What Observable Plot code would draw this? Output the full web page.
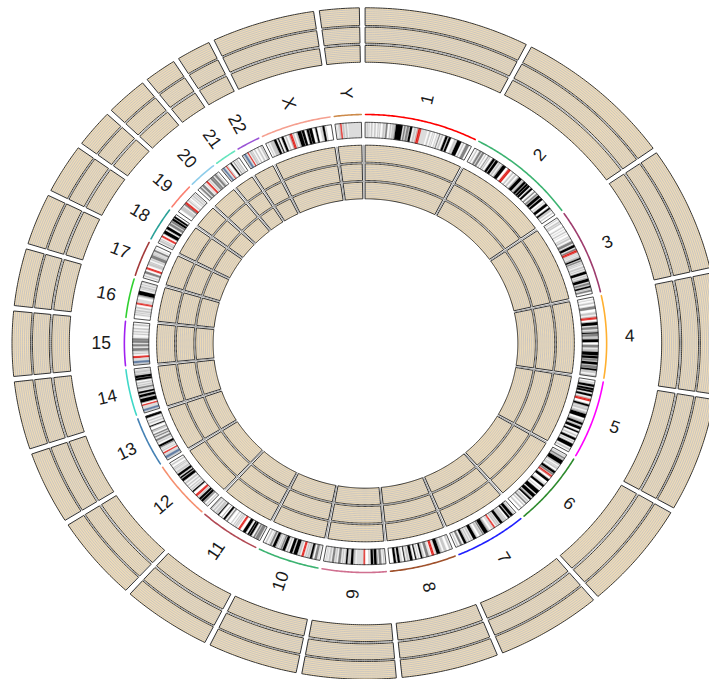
<!DOCTYPE html>
<html><head><meta charset="utf-8">
<script src="https://cdn.jsdelivr.net/npm/d3@7"></script>
<script src="https://cdn.jsdelivr.net/npm/@observablehq/plot@0.6"></script>
<style>html,body{margin:0;padding:0;background:#fff;overflow:hidden}</style>
</head><body><div id="chart"></div>
<script>
// ---------------- data ----------------
const chromosomes = ["1","2","3","4","5","6","7","8","9","10","11","12","13","14","15","16","17","18","19","20","21","22","X","Y"];
const chromLengthsMb = [249.25,243.20,198.02,191.15,180.92,171.12,159.14,146.36,141.21,135.53,135.01,133.85,115.17,107.35,102.53,90.35,81.20,78.08,59.13,63.03,48.13,51.30,155.27,59.37];
const chromColors = ["#FF0000","#3CB371","#9E3D6E","#FFB030","#FF00FF","#2E8B2E","#2020FF","#A0522D","#D07090","#3CB371","#B24A55","#F59070","#4682B4","#40D8C8","#A020F0","#30D030","#A33A3A","#2AA198","#FA8072","#8ECDEA","#66E5BE","#9B55D6","#F5A090","#CD8A4A"];
// cytoband stain codes: n=gneg 2=gpos25 5=gpos50 7=gpos75 1=gpos100 a=acen v=gvar s=stalk
const stainCodes = ["n","2","5","7","1","a","v","s"];
const stainColors = ["#FFFFFF","#C8C8C8","#C8C8C8","#828282","#000000","#E0201A","#DCDCDC","#647FA4"];
// band ends (Mb) with stain; each band starts where the previous ends
const bands_chr1 = [[2.3,"n"],[5.4,"2"],[7.2,"n"],[9.2,"2"],[12.7,"n"],[16.2,"5"],[20.4,"n"],[23.9,"2"],[28.0,"n"],[30.2,"2"],[32.4,"n"],[34.6,"2"],[40.1,"n"],[44.1,"2"],[46.8,"n"],[50.7,"7"],[56.1,"n"],[59.0,"5"],[61.3,"n"],[68.9,"5"],[69.7,"n"],[84.9,"1"],[88.4,"n"],[92.0,"7"],[94.7,"n"],[99.7,"7"],[102.2,"n"],[107.2,"1"],[111.8,"n"],[116.1,"5"],[117.8,"n"],[120.7,"5"],[121.5,"n"],[125.0,"a"],[128.9,"a"],[142.6,"v"],[147.0,"n"],[150.3,"5"],[155.0,"n"],[156.5,"5"],[159.1,"n"],[160.5,"5"],[165.5,"n"],[167.2,"5"],[170.9,"n"],[172.9,"7"],[176.0,"n"],[180.3,"5"],[185.8,"n"],[190.8,"1"],[193.8,"n"],[198.7,"1"],[207.2,"n"],[211.5,"2"],[214.5,"n"],[224.1,"1"],[228.5,"n"],[231.4,"5"],[236.4,"n"],[243.7,"7"],[249.25,"n"]];
const bands_chr2 = [[4.4,"n"],[7.1,"5"],[12.2,"n"],[16.7,"7"],[19.2,"n"],[24.0,"7"],[27.9,"n"],[30.0,"2"],[35.1,"n"],[36.6,"7"],[38.6,"n"],[41.6,"5"],[47.6,"n"],[52.9,"1"],[55.0,"n"],[61.3,"1"],[63.9,"n"],[68.4,"5"],[71.5,"n"],[73.5,"5"],[75.0,"n"],[83.3,"1"],[90.5,"n"],[93.3,"a"],[96.8,"a"],[102.7,"n"],[106.0,"5"],[110.3,"n"],[114.4,"2"],[118.8,"n"],[122.4,"5"],[129.9,"1"],[131.5,"n"],[135.1,"2"],[136.8,"n"],[142.2,"1"],[144.1,"n"],[148.7,"1"],[149.9,"n"],[154.9,"1"],[159.0,"n"],[163.7,"1"],[169.7,"n"],[172.6,"7"],[177.1,"n"],[180.6,"7"],[183.0,"n"],[189.4,"1"],[191.9,"n"],[197.4,"1"],[203.3,"n"],[204.9,"2"],[209.0,"n"],[215.3,"1"],[221.5,"n"],[225.2,"1"],[226.1,"n"],[231.0,"5"],[235.1,"n"],[237.3,"5"],[243.2,"n"]];
const bands_chr3 = [[2.8,"n"],[4.0,"2"],[8.7,"n"],[11.8,"2"],[13.3,"n"],[16.4,"2"],[23.9,"n"],[26.4,"5"],[30.9,"n"],[32.1,"2"],[36.5,"n"],[39.4,"2"],[43.7,"n"],[44.1,"2"],[50.6,"n"],[52.3,"5"],[54.4,"n"],[58.6,"5"],[63.7,"n"],[69.8,"7"],[74.2,"n"],[79.8,"1"],[83.5,"n"],[87.2,"7"],[87.9,"n"],[91.0,"a"],[93.9,"a"],[98.3,"v"],[100.0,"n"],[100.9,"2"],[103.1,"n"],[106.5,"5"],[108.2,"n"],[111.6,"1"],[113.7,"n"],[117.3,"7"],[119.0,"n"],[121.9,"5"],[123.8,"n"],[125.8,"5"],[129.2,"n"],[133.7,"5"],[135.7,"n"],[138.7,"5"],[142.8,"n"],[148.9,"1"],[152.1,"n"],[155.0,"5"],[157.0,"n"],[159.0,"2"],[160.7,"n"],[167.6,"1"],[170.9,"n"],[175.7,"7"],[179.0,"n"],[182.7,"1"],[184.5,"n"],[186.0,"2"],[187.9,"n"],[192.3,"7"],[198.02,"n"]];
const bands_chr4 = [[4.5,"n"],[6.0,"2"],[11.3,"n"],[15.2,"5"],[21.3,"n"],[27.7,"7"],[35.8,"n"],[41.2,"5"],[44.6,"n"],[48.2,"5"],[50.4,"a"],[52.7,"a"],[59.5,"n"],[66.6,"1"],[70.5,"n"],[76.3,"7"],[78.9,"n"],[82.4,"5"],[84.1,"n"],[86.9,"1"],[88.0,"n"],[93.7,"7"],[95.1,"n"],[98.8,"5"],[101.1,"n"],[107.7,"1"],[114.6,"n"],[120.8,"7"],[123.8,"n"],[128.8,"5"],[131.1,"n"],[139.5,"1"],[141.5,"n"],[146.8,"1"],[148.5,"n"],[152.6,"7"],[155.6,"n"],[161.8,"1"],[164.5,"n"],[170.1,"7"],[171.9,"n"],[176.3,"1"],[177.5,"n"],[183.2,"5"],[187.1,"n"],[191.15,"5"]];
const bands_chr5 = [[4.5,"n"],[6.3,"5"],[9.8,"n"],[15.0,"1"],[18.4,"n"],[23.3,"1"],[24.6,"n"],[28.9,"1"],[33.8,"n"],[38.4,"1"],[42.5,"n"],[46.1,"5"],[48.4,"a"],[50.7,"a"],[58.9,"n"],[62.9,"1"],[63.2,"n"],[67.2,"5"],[68.4,"n"],[73.3,"5"],[76.9,"n"],[81.4,"5"],[82.8,"n"],[92.3,"1"],[98.2,"n"],[102.8,"5"],[104.5,"n"],[109.6,"1"],[111.5,"n"],[113.1,"5"],[115.2,"n"],[121.4,"1"],[127.3,"n"],[130.6,"1"],[136.2,"n"],[139.5,"2"],[144.5,"n"],[149.8,"1"],[152.7,"n"],[155.7,"5"],[159.9,"n"],[168.5,"1"],[172.8,"n"],[176.6,"5"],[180.92,"n"]];
const bands_chr6 = [[2.3,"n"],[4.2,"2"],[7.1,"n"],[10.6,"7"],[11.6,"n"],[13.4,"2"],[15.2,"n"],[25.2,"1"],[25.8,"n"],[29.6,"5"],[33.3,"n"],[35.0,"2"],[36.4,"n"],[40.5,"5"],[46.2,"n"],[51.8,"1"],[52.9,"n"],[57.0,"7"],[58.7,"n"],[61.0,"a"],[63.3,"a"],[63.4,"v"],[70.0,"n"],[75.9,"1"],[83.9,"n"],[84.9,"5"],[88.0,"n"],[93.1,"1"],[99.5,"n"],[100.6,"5"],[105.5,"n"],[114.6,"1"],[118.3,"n"],[126.1,"1"],[127.1,"n"],[130.3,"5"],[131.2,"n"],[135.2,"1"],[139.0,"n"],[142.8,"5"],[145.6,"n"],[149.0,"7"],[152.5,"n"],[155.5,"5"],[161.0,"n"],[164.5,"5"],[171.12,"n"]];
const bands_chr7 = [[2.8,"n"],[4.5,"5"],[7.3,"n"],[13.8,"1"],[16.5,"n"],[20.9,"1"],[25.5,"n"],[28.0,"5"],[28.8,"n"],[35.0,"5"],[37.2,"n"],[43.3,"1"],[45.4,"n"],[49.0,"5"],[50.5,"n"],[54.0,"5"],[58.0,"n"],[59.9,"a"],[61.7,"a"],[67.0,"v"],[72.2,"n"],[77.5,"5"],[86.4,"1"],[88.2,"n"],[91.1,"7"],[92.8,"n"],[98.0,"5"],[103.8,"n"],[104.5,"5"],[107.4,"n"],[114.6,"1"],[117.4,"n"],[121.1,"5"],[123.8,"n"],[127.1,"5"],[129.2,"n"],[130.4,"2"],[132.6,"n"],[138.2,"1"],[143.1,"n"],[147.9,"7"],[152.6,"n"],[155.1,"5"],[159.14,"n"]];
const bands_chr8 = [[2.2,"n"],[6.2,"2"],[12.7,"n"],[19.0,"5"],[23.3,"n"],[27.4,"5"],[28.8,"n"],[36.5,"1"],[38.3,"n"],[39.7,"2"],[43.1,"n"],[45.6,"a"],[48.1,"a"],[52.2,"n"],[52.6,"2"],[55.5,"n"],[61.6,"7"],[66.0,"n"],[68.0,"5"],[70.5,"n"],[73.9,"1"],[78.3,"n"],[80.1,"5"],[84.6,"n"],[86.9,"1"],[93.3,"n"],[99.0,"1"],[101.6,"n"],[106.2,"5"],[110.5,"n"],[112.1,"1"],[117.7,"n"],[119.2,"2"],[122.5,"n"],[127.3,"1"],[131.5,"n"],[136.4,"1"],[139.9,"n"],[146.36,"n"]];
const bands_chr9 = [[2.2,"n"],[4.6,"2"],[9.0,"n"],[14.2,"7"],[16.6,"n"],[18.5,"5"],[19.9,"n"],[25.6,"1"],[28.0,"n"],[33.2,"1"],[36.3,"n"],[38.4,"2"],[47.3,"n"],[49.0,"a"],[50.7,"a"],[65.9,"v"],[68.7,"n"],[72.2,"2"],[74.0,"n"],[79.2,"1"],[81.1,"n"],[84.1,"5"],[86.9,"n"],[90.4,"1"],[91.8,"n"],[93.9,"5"],[96.6,"n"],[99.3,"2"],[102.6,"n"],[108.2,"7"],[112.0,"n"],[114.9,"5"],[117.7,"n"],[122.5,"7"],[125.8,"n"],[130.3,"5"],[133.5,"n"],[134.0,"2"],[135.9,"n"],[137.4,"2"],[141.21,"n"]];
const bands_chr10 = [[3.0,"n"],[3.8,"2"],[6.6,"n"],[12.2,"7"],[17.3,"n"],[18.6,"7"],[18.7,"n"],[22.6,"1"],[24.6,"n"],[29.6,"5"],[31.3,"n"],[34.4,"5"],[38.0,"n"],[40.2,"a"],[42.3,"a"],[46.1,"n"],[49.9,"2"],[52.9,"n"],[61.2,"1"],[64.5,"n"],[70.6,"1"],[74.9,"n"],[77.7,"5"],[82.0,"n"],[87.9,"1"],[89.5,"n"],[92.9,"7"],[94.1,"n"],[97.0,"2"],[99.3,"n"],[101.9,"2"],[103.0,"n"],[104.9,"2"],[105.8,"n"],[111.9,"1"],[114.9,"n"],[119.1,"7"],[121.7,"n"],[123.1,"2"],[127.5,"n"],[130.6,"5"],[135.53,"n"]];
const bands_chr11 = [[2.8,"n"],[10.7,"7"],[12.7,"n"],[16.2,"7"],[21.7,"n"],[26.1,"1"],[27.2,"n"],[31.0,"1"],[36.4,"n"],[43.5,"1"],[51.6,"n"],[53.7,"a"],[55.7,"a"],[59.9,"n"],[61.7,"2"],[63.4,"n"],[65.9,"2"],[68.4,"n"],[70.4,"2"],[75.2,"n"],[77.1,"5"],[85.6,"n"],[88.3,"7"],[92.8,"n"],[97.2,"1"],[102.1,"n"],[102.4,"7"],[110.6,"n"],[112.7,"1"],[114.5,"n"],[121.2,"5"],[123.9,"n"],[127.8,"5"],[130.8,"n"],[135.01,"5"]];
const bands_chr12 = [[3.3,"n"],[5.4,"2"],[10.1,"n"],[12.8,"7"],[14.8,"n"],[20.0,"1"],[21.3,"n"],[26.5,"1"],[27.8,"n"],[30.7,"5"],[33.3,"n"],[35.8,"a"],[38.2,"a"],[46.4,"n"],[49.1,"1"],[51.5,"n"],[54.9,"2"],[57.6,"n"],[60.6,"2"],[64.5,"n"],[67.7,"5"],[71.5,"n"],[75.7,"5"],[80.3,"n"],[86.7,"1"],[89.0,"n"],[92.6,"1"],[96.2,"n"],[101.6,"1"],[103.8,"n"],[109.0,"5"],[111.7,"n"],[112.3,"5"],[114.3,"n"],[116.8,"5"],[118.1,"n"],[120.7,"2"],[125.9,"n"],[129.3,"5"],[133.85,"n"]];
const bands_chr13 = [[4.5,"v"],[10.0,"s"],[16.3,"v"],[17.9,"a"],[19.5,"a"],[23.3,"n"],[25.5,"2"],[27.8,"n"],[28.9,"5"],[32.2,"n"],[34.0,"7"],[35.5,"n"],[40.1,"1"],[45.2,"n"],[47.8,"5"],[50.9,"n"],[55.3,"7"],[59.6,"n"],[62.3,"7"],[65.7,"n"],[68.6,"7"],[73.3,"n"],[75.4,"5"],[77.2,"n"],[79.0,"7"],[87.7,"n"],[90.0,"1"],[95.0,"n"],[98.1,"5"],[101.7,"n"],[104.8,"5"],[110.3,"n"],[115.17,"1"]];
const bands_chr14 = [[3.7,"v"],[8.1,"s"],[16.0,"v"],[17.6,"a"],[19.1,"a"],[24.6,"n"],[33.3,"1"],[35.3,"n"],[36.6,"5"],[37.8,"n"],[43.5,"1"],[47.2,"n"],[50.9,"1"],[54.1,"n"],[55.5,"2"],[58.1,"n"],[62.1,"7"],[64.8,"n"],[67.9,"5"],[70.2,"n"],[73.8,"5"],[79.3,"n"],[83.6,"1"],[84.9,"n"],[89.8,"1"],[91.4,"n"],[94.7,"2"],[96.3,"n"],[101.4,"5"],[103.2,"n"],[104.0,"2"],[107.35,"n"]];
const bands_chr15 = [[3.9,"v"],[8.7,"s"],[15.8,"v"],[19.0,"a"],[20.7,"a"],[25.7,"n"],[28.1,"5"],[30.3,"n"],[31.2,"5"],[33.6,"n"],[40.1,"7"],[42.8,"n"],[43.6,"5"],[44.8,"n"],[49.5,"7"],[52.9,"n"],[59.1,"7"],[59.3,"n"],[63.7,"7"],[67.2,"n"],[67.3,"2"],[72.7,"n"],[75.2,"2"],[78.3,"n"],[81.7,"5"],[85.2,"n"],[89.1,"5"],[94.3,"n"],[98.5,"5"],[102.53,"n"]];
const bands_chr16 = [[7.9,"n"],[10.5,"5"],[12.6,"n"],[14.8,"5"],[16.8,"n"],[21.2,"5"],[24.2,"n"],[28.1,"5"],[34.6,"n"],[36.6,"a"],[38.6,"a"],[47.0,"v"],[52.6,"n"],[56.7,"5"],[57.4,"n"],[66.7,"1"],[70.8,"n"],[72.9,"5"],[74.2,"n"],[79.2,"5"],[81.7,"n"],[84.2,"5"],[87.1,"n"],[88.7,"2"],[90.35,"n"]];
const bands_chr17 = [[3.3,"n"],[6.5,"5"],[10.7,"n"],[16.0,"7"],[22.2,"n"],[24.0,"a"],[25.8,"a"],[31.8,"n"],[38.1,"5"],[38.4,"n"],[40.9,"2"],[44.9,"n"],[47.4,"5"],[50.2,"n"],[57.6,"7"],[58.3,"n"],[61.3,"5"],[62.6,"n"],[64.2,"5"],[67.1,"n"],[70.9,"7"],[74.8,"n"],[75.3,"2"],[81.20,"n"]];
const bands_chr18 = [[2.9,"n"],[7.1,"5"],[8.5,"n"],[10.9,"2"],[15.4,"n"],[17.2,"a"],[19.0,"a"],[25.0,"n"],[32.7,"1"],[37.2,"n"],[43.5,"1"],[48.2,"n"],[53.8,"7"],[56.2,"n"],[60.0,"7"],[61.6,"n"],[66.8,"1"],[68.7,"n"],[73.1,"1"],[78.08,"n"]];
const bands_chr19 = [[6.9,"n"],[13.9,"2"],[14.0,"n"],[16.3,"2"],[20.0,"n"],[24.4,"7"],[26.5,"a"],[28.6,"a"],[32.4,"n"],[35.5,"2"],[38.3,"n"],[38.7,"2"],[43.4,"n"],[45.2,"2"],[48.0,"n"],[51.4,"2"],[53.6,"n"],[56.3,"2"],[59.13,"n"]];
const bands_chr20 = [[5.1,"n"],[9.2,"7"],[12.1,"n"],[17.9,"7"],[21.3,"n"],[22.3,"2"],[25.6,"n"],[27.5,"a"],[29.4,"a"],[32.1,"n"],[34.4,"2"],[37.6,"n"],[41.7,"7"],[42.1,"n"],[46.4,"7"],[49.8,"n"],[55.0,"7"],[56.5,"n"],[58.4,"5"],[63.03,"n"]];
const bands_chr21 = [[2.8,"v"],[6.8,"s"],[10.9,"v"],[12.3,"a"],[13.2,"a"],[14.3,"n"],[16.4,"5"],[24.0,"n"],[26.8,"1"],[31.5,"n"],[33.0,"7"],[35.8,"n"],[37.8,"5"],[39.7,"n"],[42.6,"2"],[48.13,"n"]];
const bands_chr22 = [[3.8,"v"],[8.3,"s"],[12.2,"v"],[13.7,"a"],[15.0,"a"],[17.9,"n"],[22.2,"2"],[23.5,"n"],[25.5,"5"],[29.6,"n"],[32.2,"5"],[37.6,"n"],[41.0,"5"],[45.2,"n"],[49.4,"5"],[51.30,"n"]];
const bands_chrX = [[4.3,"n"],[6.0,"5"],[9.5,"n"],[17.1,"5"],[19.3,"n"],[24.9,"1"],[29.3,"n"],[31.5,"1"],[37.6,"n"],[42.4,"1"],[46.4,"n"],[49.8,"5"],[54.8,"n"],[58.1,"5"],[60.6,"a"],[63.0,"a"],[64.6,"n"],[67.8,"5"],[71.8,"n"],[73.9,"5"],[76.0,"n"],[84.6,"1"],[86.2,"n"],[91.8,"1"],[97.6,"n"],[102.5,"1"],[103.6,"n"],[110.0,"1"],[117.7,"n"],[121.0,"1"],[129.3,"n"],[131.3,"5"],[134.5,"n"],[138.9,"1"],[141.2,"n"],[143.0,"2"],[155.27,"n"]];
const bands_chrY = [[2.5,"n"],[3.0,"5"],[6.1,"n"],[6.9,"5"],[7.5,"n"],[10.3,"5"],[11.6,"n"],[12.5,"a"],[13.4,"a"],[15.1,"n"],[19.8,"5"],[22.1,"n"],[26.2,"5"],[28.8,"n"],[59.37,"v"]];
const bandTables = [bands_chr1,bands_chr2,bands_chr3,bands_chr4,bands_chr5,bands_chr6,bands_chr7,bands_chr8,bands_chr9,bands_chr10,bands_chr11,bands_chr12,bands_chr13,bands_chr14,bands_chr15,bands_chr16,bands_chr17,bands_chr18,bands_chr19,bands_chr20,bands_chr21,bands_chr22,bands_chrX,bands_chrY];

// ---------------- layout ----------------
const W = 709, H = 679, CX = 365, CY = 343, SX = 1.053;
const GAP = 1;
const outerTracks = [[318,335.7],[300.3,316.3],[281.3,298]];
const innerTracks = [[181.3,198.3],[163,179.7],[144.7,161.3]];
const IDEO = [205.8,221.2], ARC_R = 229, LABEL_R = 251;
const STRIPES = 8;

const total = d3.sum(chromLengthsMb);
const degPerMb = (360 - GAP*chromosomes.length)/total;
const sectors = [];
{ let a = 0;
  chromosomes.forEach((c,i)=>{ const s=a, e=a+chromLengthsMb[i]*degPerMb;
    sectors.push({chr:c,i,start:s,end:e,len:chromLengthsMb[i],color:chromColors[i]}); a=e+GAP; }); }

const rad = d => d*Math.PI/180;
const pt = (t,r,id,extra) => ({u:r*Math.sin(rad(t)), v:r*Math.cos(rad(t)), id, ...extra});
function arc(t1,t2,r,id,extra){ const n=Math.max(1,Math.ceil(Math.abs(t2-t1)/0.4)); const o=[];
  for(let k=0;k<=n;k++) o.push(pt(t1+(t2-t1)*k/n,r,id,extra)); return o; }
function annulus(t1,t2,r1,r2,id,extra){ return [...arc(t1,t2,r2,id,extra), ...arc(t2,t1,r1,id,extra)]; }

// cells + stripes
const cells = [], stripes = [], gapArcs = [];
const allTracks = [...outerTracks, ...innerTracks];
sectors.forEach(s=>{
  allTracks.forEach(([r1,r2],k)=>{
    cells.push(...annulus(s.start,s.end,r1,r2,`c${s.i}_${k}`));
    for(let j=1;j<=STRIPES;j++){ const r=r1+(r2-r1)*j/(STRIPES+1); stripes.push(...arc(s.start,s.end,r,`s${s.i}_${k}_${j}`)); }
  });
  [ (outerTracks[0][0]+outerTracks[1][1])/2, (outerTracks[1][0]+outerTracks[2][1])/2 ].forEach((r,j)=>gapArcs.push(...arc(s.start,s.end,r,`go${s.i}_${j}`)));
});
const innerGapCircles = [ (innerTracks[0][0]+innerTracks[1][1])/2, (innerTracks[1][0]+innerTracks[2][1])/2 ];
innerGapCircles.forEach((r,j)=>gapArcs.push(...arc(0,360,r,`gi${j}`)));
const innerRadial = [];
sectors.forEach(s=>{ const t = s.end + GAP/2; innerRadial.push(pt(t,innerTracks[2][0],`r${s.i}`), pt(t,innerTracks[0][1],`r${s.i}`)); });

// ideogram bands
const bandPolys = stainCodes.map(()=>[]);
sectors.forEach(s=>{
  let prev = 0; const tab = bandTables[s.i];
  tab.forEach(([end,code],b)=>{ const e = Math.min(end,s.len);
    if (e>prev){ const t1=s.start+prev*degPerMb, t2=s.start+e*degPerMb;
      bandPolys[stainCodes.indexOf(code)].push(...annulus(t1,t2,IDEO[0],IDEO[1],`b${s.i}_${b}`)); }
    prev = e; });
});
const ideoBorders = sectors.flatMap(s=>annulus(s.start,s.end,IDEO[0],IDEO[1],`ib${s.i}`));
const colorArcs = sectors.flatMap(s=>arc(s.start,s.end,ARC_R,`a${s.i}`,{color:s.color}));
const labels = sectors.map(s=>{ const m=(s.start+s.end)/2; const p=pt(m,LABEL_R,s.chr);
  return {...p, text:s.chr, rot: m<180 ? m-90 : m-270}; });

const marks = [
  Plot.line(cells,{x:"u",y:"v",z:"id",fill:"#EFDBB6",stroke:"none",curve:"linear-closed"}),
  Plot.line(stripes,{x:"u",y:"v",z:"id",stroke:"#BEBFC4",strokeWidth:0.8}),
  Plot.line(cells,{x:"u",y:"v",z:"id",fill:"none",stroke:"#333",strokeWidth:1,curve:"linear-closed"}),
  Plot.line(gapArcs,{x:"u",y:"v",z:"id",stroke:"#9a9a9a",strokeWidth:0.9}),
  Plot.line(innerRadial,{x:"u",y:"v",z:"id",stroke:"#9a9a9a",strokeWidth:0.9}),
  ...bandPolys.map((d,k)=>Plot.line(d,{x:"u",y:"v",z:"id",fill:stainColors[k],stroke:stainColors[k],strokeWidth:0.3,curve:"linear-closed"})),
  Plot.line(ideoBorders,{x:"u",y:"v",z:"id",fill:"none",stroke:"#222",strokeWidth:0.8,curve:"linear-closed"}),
  Plot.line(colorArcs,{x:"u",y:"v",z:"id",stroke:"color",strokeWidth:1.6}),
  Plot.text(labels,{x:"u",y:"v",text:"text",rotate:"rot",fontSize:17.5,fill:"#1a1a1a",textAnchor:"middle",fontFamily:"Liberation Sans, Arial, sans-serif"})
];

const chart = Plot.plot({
  width: W, height: H, margin: 0,
  x: {domain: [-CX/SX, (W-CX)/SX], range:[0,W], axis: null},
  y: {domain: [CY-H, CY], range:[H,0], axis: null},
  color: {type: "identity"},
  style: {background: "#fff", overflow: "hidden"},
  marks
});
document.getElementById("chart").appendChild(chart);
</script>
</body></html>
